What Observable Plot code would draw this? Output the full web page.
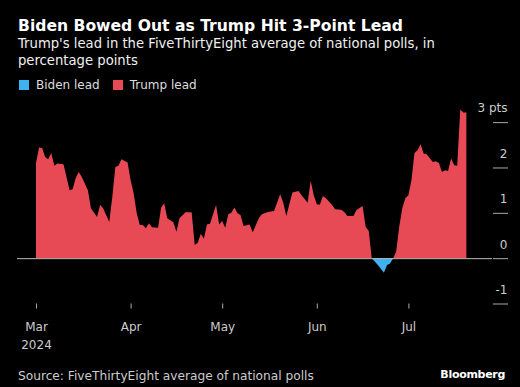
<!DOCTYPE html>
<html><head><meta charset="utf-8">
<script src="https://cdn.jsdelivr.net/npm/d3@7"></script>
<script src="https://cdn.jsdelivr.net/npm/@observablehq/plot@0.6"></script>
<style>
html,body{margin:0;padding:0;background:#000;}
#wrap{position:relative;width:520px;height:387px;overflow:hidden;font-family:"DejaVu Sans",sans-serif;color:#fff;background:#000;}
#title{position:absolute;left:18px;top:17.3px;font-size:15.6px;line-height:18px;font-weight:bold;white-space:nowrap;}
#sub{position:absolute;left:18px;top:36px;width:450px;font-size:13.2px;line-height:16.5px;color:#f0f0f0;}
#legend{position:absolute;left:19px;top:76.5px;font-size:12px;line-height:16px;display:flex;align-items:center;color:#ddd;}
#legend .sw{display:inline-block;width:10px;height:10px;margin-right:7px;}
#legend .it{display:flex;align-items:center;margin-right:13px;}
#chart{position:absolute;left:0;top:100px;}
#source{position:absolute;left:18px;top:367.5px;font-size:12.2px;line-height:16px;color:#ccc;white-space:nowrap;}
#brand{position:absolute;right:15px;top:366.5px;font-size:11px;line-height:15px;letter-spacing:-0.3px;font-weight:bold;color:#fff;}
</style></head>
<body>
<div id="wrap">
  <div id="title">Biden Bowed Out as Trump Hit 3-Point Lead</div>
  <div id="sub">Trump's lead in the FiveThirtyEight average of national polls, in percentage points</div>
  <div id="legend"></div>
  <div id="chart"></div>
  <div id="source">Source: FiveThirtyEight average of national polls</div>
  <div id="brand">Bloomberg</div>
</div>
<script>
// Trump's lead (percentage points)
const dates = [
"2024-03-01","2024-03-02","2024-03-03","2024-03-04","2024-03-05","2024-03-06","2024-03-07","2024-03-08","2024-03-10","2024-03-11",
"2024-03-12","2024-03-13","2024-03-14","2024-03-15","2024-03-16","2024-03-18","2024-03-19","2024-03-21","2024-03-22","2024-03-23",
"2024-03-25","2024-03-26","2024-03-27","2024-03-28","2024-03-29","2024-03-31","2024-04-01","2024-04-02","2024-04-03","2024-04-04",
"2024-04-05","2024-04-06","2024-04-07","2024-04-08","2024-04-10","2024-04-11","2024-04-12","2024-04-13","2024-04-15","2024-04-16",
"2024-04-17","2024-04-19","2024-04-21","2024-04-22","2024-04-23","2024-04-24","2024-04-25","2024-04-26","2024-04-27","2024-04-29",
"2024-04-30","2024-05-01","2024-05-02","2024-05-03","2024-05-04","2024-05-05","2024-05-06","2024-05-07","2024-05-08","2024-05-10",
"2024-05-11","2024-05-13","2024-05-14","2024-05-16","2024-05-18","2024-05-20","2024-05-21","2024-05-22","2024-05-23","2024-05-24",
"2024-05-26","2024-05-27","2024-05-29","2024-05-30","2024-05-31","2024-06-01","2024-06-02","2024-06-03","2024-06-04","2024-06-06",
"2024-06-07","2024-06-09","2024-06-10","2024-06-11","2024-06-13","2024-06-14","2024-06-16","2024-06-17","2024-06-18","2024-06-19",
"2024-06-21","2024-06-23","2024-06-24","2024-06-25","2024-06-26","2024-06-27","2024-06-28","2024-06-29","2024-06-30","2024-07-01",
"2024-07-02","2024-07-03","2024-07-04","2024-07-05","2024-07-06","2024-07-07","2024-07-09","2024-07-10","2024-07-11","2024-07-12",
"2024-07-13","2024-07-14","2024-07-15","2024-07-16","2024-07-17","2024-07-18","2024-07-19","2024-07-20"
];
const lead = [
2.10,2.44,2.43,2.23,2.18,2.32,2.04,2.09,2.07,1.79,
1.50,1.52,1.76,1.90,1.79,1.50,1.10,0.91,1.17,1.10,
0.80,1.35,2.01,2.04,2.18,2.11,1.72,1.43,0.99,0.73,
0.73,0.66,0.77,0.68,0.67,1.12,1.21,0.88,0.79,0.58,
0.88,1.01,1.01,0.29,0.34,0.54,0.43,0.74,0.76,1.17,
0.74,0.82,0.67,0.97,1.00,1.12,0.99,0.95,0.71,0.74,
0.57,0.88,0.97,1.02,1.04,1.41,1.22,0.93,1.19,1.45,
1.48,1.39,1.22,1.71,1.39,1.19,1.18,1.37,1.32,1.17,
1.08,1.07,1.02,0.93,0.93,1.06,1.15,0.69,0.60,0.00,
-0.15,-0.32,-0.15,-0.12,0.00,0.14,0.69,1.10,1.32,1.39,
1.72,2.32,2.38,2.51,2.31,2.29,2.12,2.14,2.10,1.90,
1.94,1.92,2.20,2.05,2.04,3.28,3.21,3.21
];
const seriesNames = ["Biden lead", "Trump lead"];
const seriesColors = ["#3fb0f0", "#e84a55"];
const yTicks = [-1, 0, 1, 2, 3];
const yTickLabels = ["-1", "0", "1", "2", "3 pts"];
const xDomain = ["2024-02-23T18:36:00Z", "2024-07-28T09:30:00Z"];

const data = dates.map((d, i) => ({date: new Date(d + "T00:00:00Z"), v: lead[i]}));

const legend = document.getElementById("legend");
seriesNames.forEach((n, i) => {
  const it = document.createElement("span");
  it.className = "it";
  it.innerHTML = `<span class="sw" style="background:${seriesColors[i]}"></span>${n}`;
  legend.appendChild(it);
});

const chart = Plot.plot({
  width: 520,
  height: 255,
  marginLeft: 17,
  marginRight: 28,
  marginTop: 4,
  marginBottom: 51.5,
  style: {background: "#000", color: "#ccc", fontFamily: "DejaVu Sans, sans-serif", fontSize: "12px"},
  x: {type: "utc", domain: xDomain.map(s => new Date(s))},
  y: {domain: [-1, 3.4]},
  marks: [
    Plot.areaY(data, {x: "date", y: d => Math.max(d.v, 0), fill: seriesColors[1], curve: "linear"}),
    Plot.areaY(data, {x: "date", y: d => Math.min(d.v, 0), fill: seriesColors[0], curve: "linear"}),
    Plot.ruleY([0], {stroke: "#bbb", strokeWidth: 1}),
    // tick segments to the right of the frame
    Plot.axisY(yTicks, {
      anchor: "right", tickSize: 15, tickFormat: () => "",
      stroke: "#aaa", label: null
    }),
    // tick labels, raised above the segments
    Plot.axisY(yTicks, {
      anchor: "right", tickSize: 0, tickPadding: 15, textAnchor: "end", dy: -14,
      tickFormat: (d) => yTickLabels[yTicks.indexOf(d)],
      fill: "#ccc", label: null
    }),
    Plot.axisX({
      anchor: "bottom", ticks: "month", tickSize: 5, tickPadding: 9, lineHeight: 1.5,
      tickFormat: (d, i) => d3.utcFormat("%b")(d) + (i === 0 ? "\n2024" : ""),
      stroke: "#aaa", fill: "#ccc", label: null
    })
  ]
});
document.getElementById("chart").appendChild(chart);
</script>
</body></html>
